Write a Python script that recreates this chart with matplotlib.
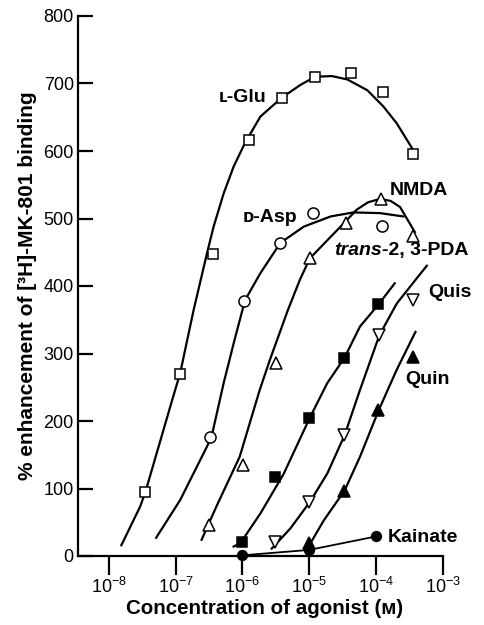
import numpy as np
import matplotlib
matplotlib.use('Agg')
import matplotlib.pyplot as plt
from matplotlib.ticker import NullLocator, FixedLocator

plt.rcParams['font.family'] = ['Liberation Sans', 'DejaVu Sans']
plt.rcParams['mathtext.fontset'] = 'custom'
plt.rcParams['mathtext.rm'] = 'Liberation Sans'

# measured points: log10 concentration (M), % enhancement
glu_x = [-7.45, -6.94, -6.44, -5.90, -5.41, -4.92, -4.38, -3.90, -3.45]
glu_y = [95, 270, 447, 616, 679, 710, 716, 688, 596]
asp_x = [-6.49, -5.97, -5.44, -4.95, -3.91]
asp_y = [176, 378, 464, 508, 489]
nmda_x = [-6.50, -5.99, -5.49, -4.99, -4.45, -3.93, -3.45]
nmda_y = [46, 135, 286, 441, 493, 529, 474]
pda_x = [-6.00, -5.51, -5.00, -4.48, -3.97]
pda_y = [21, 117, 205, 294, 373]
quis_x = [-5.51, -5.00, -4.48, -3.95, -3.44]
quis_y = [21, 80, 179, 327, 380]
quin_x = [-5.00, -4.48, -3.97, -3.45]
quin_y = [20, 97, 216, 295]
kai_x = [-6.0, -5.0, -4.0]
kai_y = [1, 9, 29]

# fitted curves as drawn in the figure
glu_cx = [-7.81, -7.53, -7.45, -7.05, -6.93, -6.73, -6.53, -6.43, -6.28, -6.13,
          -5.96, -5.73, -5.41, -5.13, -4.91, -4.66, -4.43, -4.13, -3.89, -3.69, -3.46]
glu_cy = [16, 73, 95, 231, 271, 364, 448, 488, 537, 577,
          612, 651, 679, 698, 710, 711, 706, 690, 666, 641, 604]
asp_cx = [-7.29, -6.93, -6.53, -6.46, -6.28, -6.13, -5.96, -5.73, -5.43, -5.08,
          -4.68, -4.34, -3.94, -3.59]
asp_cy = [27, 83, 162, 177, 256, 315, 379, 419, 464, 488,
          503, 509, 508, 503]
nmda_cx = [-6.61, -6.39, -6.04, -5.74, -5.59, -5.32, -5.14, -4.99, -4.54, -4.29,
           -4.12, -3.94, -3.78, -3.64, -3.42]
nmda_cy = [24, 73, 147, 246, 290, 364, 409, 441, 487, 513,
           524, 529, 526, 517, 480]
pda_cx = [-6.13, -6.03, -5.73, -5.38, -4.99, -4.73, -4.47, -4.24, -3.96, -3.72]
pda_cy = [14, 19, 63, 122, 205, 256, 294, 340, 373, 404]
quis_cx = [-5.56, -5.28, -4.99, -4.73, -4.47, -4.24, -3.95, -3.69, -3.41, -3.24]
quis_cy = [11, 41, 80, 122, 179, 246, 327, 374, 409, 430]
quin_cx = [-5.01, -4.78, -4.47, -4.24, -3.96, -3.69, -3.41]
quin_cy = [14, 53, 97, 147, 216, 276, 332]

yticks = [0, 100, 200, 300, 400, 500, 600, 700, 800]
xtick_exp = [-8, -7, -6, -5, -4, -3]

def c(v):
    return 10.0 ** np.array(v)

fig = plt.figure(figsize=(4.84, 6.25), dpi=100)
ax = fig.add_axes([0.161, 0.1104, 0.754, 0.864])

lw = 1.6
for cx, cy in [(glu_cx, glu_cy), (asp_cx, asp_cy), (nmda_cx, nmda_cy),
               (pda_cx, pda_cy), (quis_cx, quis_cy), (quin_cx, quin_cy)]:
    ax.plot(c(cx), cy, color='black', lw=lw, zorder=2, solid_joinstyle='round')
ax.plot(c(kai_x), kai_y, color='black', lw=1.3, zorder=2, clip_on=False)

mk = dict(linestyle='none', color='black', markeredgewidth=1.1, zorder=3, clip_on=False)
ax.plot(c(glu_x), glu_y, marker='s', ms=7, mfc='white', **mk)
ax.plot(c(asp_x), asp_y, marker='o', ms=8, mfc='white', **mk)
ax.plot(c(nmda_x), nmda_y, marker='^', ms=8, mfc='white', **mk)
ax.plot(c(pda_x), pda_y, marker='s', ms=7, mfc='black', **mk)
ax.plot(c(quis_x), quis_y, marker='v', ms=8, mfc='white', **mk)
ax.plot(c(quin_x), quin_y, marker='^', ms=8, mfc='black', **mk)
ax.plot(c(kai_x), kai_y, marker='o', ms=7, mfc='black', **mk)

tf = dict(fontsize=14, fontweight='bold', va='center', ha='left')
ax.text(10 ** -6.36, 680, '\u029f-Glu', **tf)
ax.text(10 ** -5.99, 502, '\u1d05-Asp', **tf)
ax.text(10 ** -3.79, 542, 'NMDA', **tf)
t1 = ax.text(10 ** -4.62, 453, 'trans', fontstyle='italic', **tf)
ax.annotate('-2, 3-PDA', xy=(1, 0), xycoords=t1, va='bottom', ha='left',
            fontsize=14, fontweight='bold')
ax.text(10 ** -3.22, 390, 'Quis', **tf)
ax.text(10 ** -3.56, 261, 'Quin', **tf)
ax.text(10 ** -3.82, 28, 'Kainate', **tf)

ax.set_xscale('log')
ax.set_xlim(10 ** -8.46, 1e-3)
ax.set_ylim(0, 800)
ax.xaxis.set_major_locator(FixedLocator([10.0 ** e for e in xtick_exp]))
ax.xaxis.set_minor_locator(NullLocator())
ax.set_xticklabels([r'$10^{%d}$' % e for e in xtick_exp])
ax.set_yticks(yticks)

for s in ['top', 'right']:
    ax.spines[s].set_visible(False)
for s in ['left', 'bottom']:
    ax.spines[s].set_linewidth(1.6)

ax.tick_params(axis='y', direction='in', length=11, width=1.6, labelsize=13, pad=3)
ax.tick_params(axis='x', direction='out', length=14, width=1.6, labelsize=13, pad=1)

ax.set_xlabel('Concentration of agonist (\u1d0d)', fontsize=14.8, fontweight='bold')
ax.xaxis.set_label_coords(0.512, -0.08)
ax.set_ylabel('% enhancement of [\u00b3H]-MK-801 binding', fontsize=15, fontweight='bold')
ax.yaxis.set_label_coords(-0.112, 0.5)

plt.savefig('out.png', dpi=100)
